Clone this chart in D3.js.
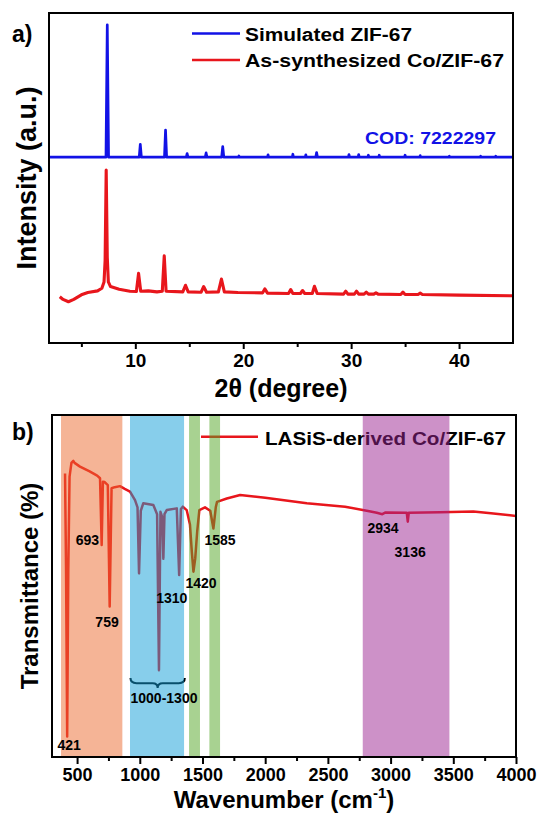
<!DOCTYPE html>
<html><head><meta charset="utf-8">
<script src="https://cdn.jsdelivr.net/npm/d3@7"></script>
<style>
body{margin:0;background:#fff}
svg{display:block}
text{font-family:Arial,"Liberation Sans",Helvetica,sans-serif;font-weight:bold;fill:#000}
</style>
</head><body>
<svg id="c" width="540" height="814"></svg>
<script>
// ---------- DATA ----------
// Panel a) XRD
const xrdMajorTicks = [10, 20, 30, 40];
const xrdMinorTicks = [5, 15, 25, 35];
const simulatedZIF67 = [
  [2.0,56.3],
  [7.28,56.3],[7.4,96.4],[7.52,56.3],
  [10.36,56.3],[10.46,60.2],[10.56,56.3],
  [12.7,56.3],[12.8,64.5],[12.9,56.3],
  [14.72,56.3],[14.8,57.4],[14.88,56.3],
  [16.48,56.3],[16.56,57.6],[16.64,56.3],
  [18.0,56.3],[18.1,59.5],[18.2,56.3],
  [19.55,56.3],[19.6,56.7],[19.65,56.3],
  [22.25,56.3],[22.3,57.0],[22.35,56.3],
  [24.55,56.3],[24.6,57.2],[24.65,56.3],
  [25.75,56.3],[25.8,57.0],[25.85,56.3],
  [26.72,56.3],[26.8,57.7],[26.88,56.3],
  [29.75,56.3],[29.8,57.1],[29.85,56.3],
  [30.65,56.3],[30.7,57.1],[30.75,56.3],
  [31.55,56.3],[31.6,56.9],[31.65,56.3],
  [32.55,56.3],[32.6,56.9],[32.65,56.3],
  [34.95,56.3],[35.0,56.9],[35.05,56.3],
  [36.35,56.3],[36.4,56.8],[36.45,56.3],
  [39.05,56.3],[39.1,56.6],[39.15,56.3],
  [41.95,56.3],[42.0,56.6],[42.05,56.3],
  [43.35,56.3],[43.4,56.6],[43.45,56.3],
  [45.0,56.3]
];
const synthesizedCoZIF67 = [
  [3.0,14.0],[3.3,13.2],[3.8,12.5],[4.3,13.2],[5.0,14.6],[5.6,15.3],[6.5,15.8],[6.9,16.6],
  [7.1,18.5],[7.2,25.0],[7.3,52.4],[7.4,26.0],[7.5,18.5],[7.7,17.1],[8.5,16.3],[9.5,15.7],
  [10.1,15.6],[10.3,21.1],[10.5,15.7],[11.2,15.8],[12.0,15.5],[12.5,15.7],[12.68,26.4],[12.85,15.7],
  [14.4,15.5],[14.65,17.5],[14.9,15.5],[16.1,15.4],[16.33,17.1],[16.6,15.4],[17.7,15.5],[17.98,19.4],
  [18.25,15.5],[19.5,15.3],[21.8,15.2],[22.0,16.4],[22.25,15.1],[24.2,15.0],[24.4,16.2],[24.6,15.0],
  [25.3,15.0],[25.5,15.9],[25.7,15.0],[26.4,15.0],[26.6,17.2],[26.85,15.0],[29.3,14.8],[29.5,15.7],
  [29.7,14.8],[30.3,14.8],[30.5,15.7],[30.7,14.8],[31.2,14.8],[31.4,15.4],[31.6,14.8],[32.1,14.8],
  [32.3,15.2],[32.5,14.8],[34.6,14.7],[34.8,15.4],[35.0,14.7],[36.2,14.7],[36.4,15.1],[36.6,14.7],
  [40.0,14.5],[45.0,14.3]
];

// Panel b) FTIR
const ftirMajorTicks = [500, 1000, 1500, 2000, 2500, 3000, 3500, 4000];
const ftirMinorTicks = [750, 1250, 1750, 2250, 2750, 3250, 3750];
const ftirLASiS = [
  [404,82.9],[412,55],[421,6],[430,55],[440,82],[455,86],[470,86.6],[480,86.0],[523,84.9],
  [600,83.5],[660,82.3],[683,81.5],[696,62],[706,80.5],[720,80.4],[745,79.5],[760,44],[775,78.6],
  [800,78.9],[842,79.2],[880,78.4],[922,77.6],[962,75.1],[982,73],[994,53.7],[1008,72],[1028,74.2],
  [1108,73.7],[1138,71],[1153,25.4],[1165,71.7],[1180,70],[1188,58],[1197,71],[1215,72.2],
  [1295,72.7],[1314,53.2],[1328,72.5],[1343,73.2],[1374,72.2],[1400,68],[1415,60],[1428,54.2],
  [1442,58],[1458,66],[1475,72.2],[1520,73.0],[1562,72],[1587,66.8],[1606,73],[1616,74.6],
  [1694,75.6],[1800,76.6],[2000,75.8],[2332,74.2],[2637,73.2],[2810,72.0],[2890,71.4],[2934,71.0],
  [2960,71.5],[3129,71.4],[3137,68.8],[3145,71.4],[3395,71.6],[3660,71.8],[3800,71.3],[4000,70.5]
];
const ftirBandRanges = [[372,861],[922,1353],[1393,1480],[1555,1640],[2778,3469]];
const ftirPeakLabels = ["693","759","1310","1420","1585","2934","3136","421","1000-1300"];
const ftirPeakLabelAt = [[583,62.0],[739,38.1],[1255,45.0],[1488,49.4],[1640,62.0],[2940,65.4],[3156,58.6],[436,2.0],[1193,15.7]];
const braceRange = [926, 1359];
const braceLevels = [23.1, 21.6, 20.2];

// ---------- STYLES ----------
const blue = "#1212E6", red = "#E8161C";
const bandColors = ["#EB692D","#0F9DD7","#51A523","#51A523","#9B2391"];

// ---------- DRAW ----------
const svg = d3.select("#c");
const defs = svg.append("defs");

function frame(g, L, R, T, B){
  g.append("rect").attr("x",L).attr("y",T).attr("width",R-L).attr("height",B-T)
    .attr("fill","none").attr("stroke","#000").attr("stroke-width",2);
}

// ---- Panel a ----
const aL=49, aR=513, aT=13, aB=343;
const xa = d3.scaleLinear().domain([2,45]).range([aL,aR]);
const ya = d3.scaleLinear().domain([0,100]).range([aB,aT]);
defs.append("clipPath").attr("id","clipA").append("rect").attr("x",aL).attr("y",aT).attr("width",aR-aL).attr("height",aB-aT);
const ga = svg.append("g");
const lineA = d3.line().x(d=>xa(d[0])).y(d=>ya(d[1]));
ga.append("path").datum(simulatedZIF67).attr("d",lineA).attr("fill","none").attr("stroke",blue)
  .attr("stroke-width",2.7).attr("stroke-linejoin","round").attr("clip-path","url(#clipA)");
ga.append("path").datum(synthesizedCoZIF67).attr("d",lineA).attr("fill","none").attr("stroke",red)
  .attr("stroke-width",3.1).attr("stroke-linejoin","round").attr("clip-path","url(#clipA)");

const axA = ga.append("g").attr("transform",`translate(0,${aB})`)
  .call(d3.axisBottom(xa).tickValues(xrdMajorTicks).tickSize(6).tickPadding(5).tickFormat(d3.format("d")));
axA.select(".domain").remove();
axA.selectAll(".tick line").attr("stroke","#000").attr("stroke-width",2);
axA.selectAll(".tick text").style("font-size","19px").attr("font-family",null).attr("dy","0.71em");
const axAm = ga.append("g").attr("transform",`translate(0,${aB})`)
  .call(d3.axisBottom(xa).tickValues(xrdMinorTicks).tickSize(4).tickFormat(""));
axAm.select(".domain").remove();
axAm.selectAll(".tick line").attr("stroke","#000").attr("stroke-width",2);
frame(ga,aL,aR,aT,aB);

ga.append("text").attr("x",12).attr("y",42).style("font-size","23px").text("a)");
ga.append("line").attr("x1",192).attr("x2",240).attr("y1",33.5).attr("y2",33.5).attr("stroke",blue).attr("stroke-width",2.6);
ga.append("line").attr("x1",192).attr("x2",240).attr("y1",60).attr("y2",60).attr("stroke",red).attr("stroke-width",2.6);
ga.append("text").attr("x",245).attr("y",40.7).style("font-size","18px")
  .attr("textLength",167).attr("lengthAdjust","spacingAndGlyphs").text("Simulated ZIF-67");
ga.append("text").attr("x",245).attr("y",66.7).style("font-size","18px")
  .attr("textLength",259).attr("lengthAdjust","spacingAndGlyphs").text("As-synthesized Co/ZIF-67");
ga.append("text").attr("x",365).attr("y",143.8).style("font-size","17px").style("fill",blue)
  .attr("textLength",131).attr("lengthAdjust","spacingAndGlyphs").text("COD: 7222297");
ga.append("text").attr("transform","translate(36,178) rotate(-90)").attr("text-anchor","middle")
  .style("font-size","27px").text("Intensity (a.u.)");
ga.append("text").attr("x",(aL+aR)/2).attr("y",397).attr("text-anchor","middle")
  .style("font-size","25px").text("2θ (degree)");

// ---- Panel b ----
const bL=52, bR=516, bT=415, bB=757;
const xb = d3.scaleLinear().domain([300,4000]).range([bL,bR]);
const yb = d3.scaleLinear().domain([0,100]).range([bB,bT]);
defs.append("clipPath").attr("id","clipB").append("rect").attr("x",bL).attr("y",bT).attr("width",bR-bL).attr("height",bB-bT);
const gb = svg.append("g");
const lineB = d3.line().x(d=>xb(d[0])).y(d=>yb(d[1]));
gb.append("path").datum(ftirLASiS).attr("d",lineB).attr("fill","none").attr("stroke",red)
  .attr("stroke-width",2.5).attr("stroke-linejoin","round").attr("clip-path","url(#clipB)");

// legend (under bands)
gb.append("line").attr("x1",201).attr("x2",258).attr("y1",436.7).attr("y2",436.7).attr("stroke",red).attr("stroke-width",2.6);
gb.append("text").attr("x",265).attr("y",445).style("font-size","18.5px")
  .attr("textLength",241).attr("lengthAdjust","spacingAndGlyphs").text("LASiS-derived Co/ZIF-67");

// brace (under bands)
{
  const x0=xb(braceRange[0]), x1=xb(braceRange[1]), xm=(x0+x1)/2;
  const yT=yb(braceLevels[0]), yM=yb(braceLevels[1]), yP=yb(braceLevels[2]);
  const p = `M${x0},${yT} Q${x0},${yM} ${x0+6},${yM} L${xm-5},${yM} Q${xm},${yM} ${xm},${yP} Q${xm},${yM} ${xm+5},${yM} L${x1-6},${yM} Q${x1},${yM} ${x1},${yT}`;
  gb.append("path").attr("d",p).attr("fill","none").attr("stroke","#000").attr("stroke-width",2);
}

// bands overlay
gb.selectAll("rect.band").data(ftirBandRanges).join("rect").attr("class","band")
  .attr("x",d=>xb(d[0])).attr("width",d=>xb(d[1])-xb(d[0]))
  .attr("y",bT+1).attr("height",bB-bT-2)
  .attr("fill",(d,i)=>bandColors[i]).attr("fill-opacity",0.5);

// peak labels
gb.selectAll("text.pk").data(ftirPeakLabels).join("text").attr("class","pk")
  .attr("x",(d,i)=>xb(ftirPeakLabelAt[i][0])).attr("y",(d,i)=>yb(ftirPeakLabelAt[i][1]))
  .attr("text-anchor","middle").style("font-size","14px").text(d=>d);

const axB = gb.append("g").attr("transform",`translate(0,${bB})`)
  .call(d3.axisBottom(xb).tickValues(ftirMajorTicks).tickSize(7).tickPadding(4).tickFormat(d3.format("d")));
axB.select(".domain").remove();
axB.selectAll(".tick line").attr("stroke","#000").attr("stroke-width",2);
axB.selectAll(".tick text").style("font-size","18px").attr("font-family",null).attr("dy","0.71em");
const axBm = gb.append("g").attr("transform",`translate(0,${bB})`)
  .call(d3.axisBottom(xb).tickValues(ftirMinorTicks).tickSize(4).tickFormat(""));
axBm.select(".domain").remove();
axBm.selectAll(".tick line").attr("stroke","#000").attr("stroke-width",2);
frame(gb,bL,bR,bT,bB);

gb.append("text").attr("x",12).attr("y",440).style("font-size","23px").text("b)");
gb.append("text").attr("transform","translate(38,586) rotate(-90)").attr("text-anchor","middle")
  .style("font-size","24px").text("Transmittance (%)");
{
  const t = gb.append("text").attr("x",(bL+bR)/2).attr("y",808).attr("text-anchor","middle").style("font-size","24px");
  t.append("tspan").text("Wavenumber (cm");
  t.append("tspan").attr("dy",-10).style("font-size","15px").text("-1");
  t.append("tspan").attr("dy",10).text(")");
}
</script>
</body></html>
